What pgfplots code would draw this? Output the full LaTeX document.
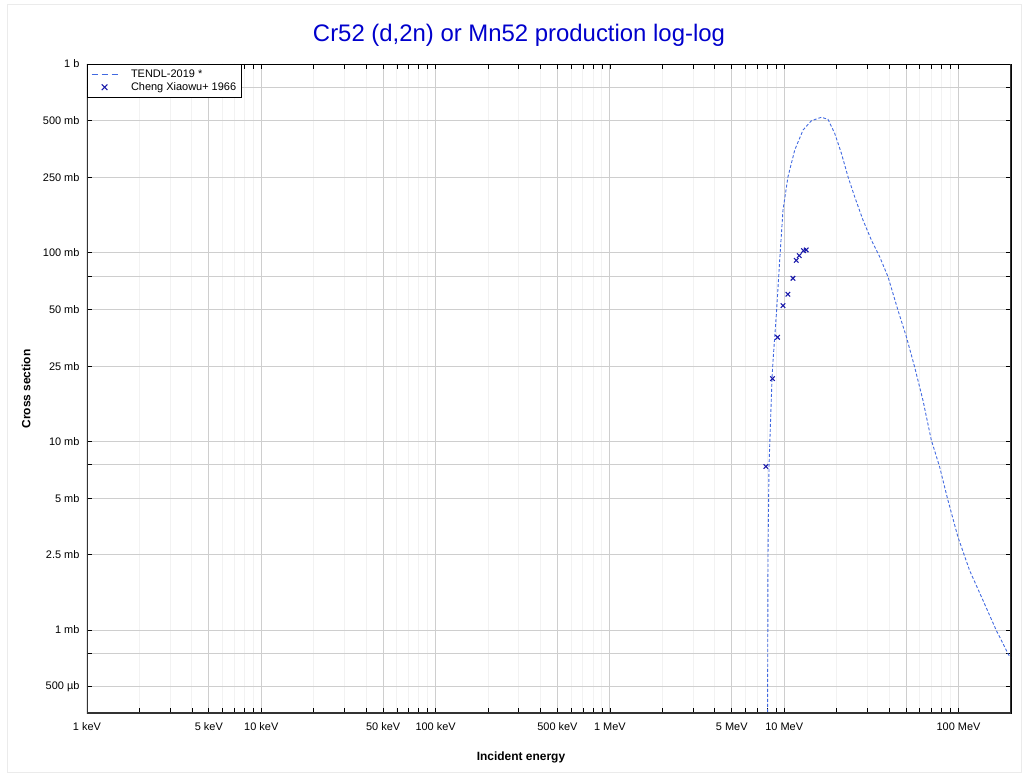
\documentclass[border=0pt]{standalone}
\usepackage{fontspec}
\setmainfont{Liberation Sans}
\usepackage{pgfplots}
\pgfplotsset{compat=1.18}
\definecolor{tendl}{RGB}{65,105,225}
\definecolor{exfor}{RGB}{25,25,170}
\definecolor{ttl}{RGB}{0,0,204}
\definecolor{gridmaj}{RGB}{206,206,206}
\definecolor{gridmin}{RGB}{242,242,242}
\definecolor{frame}{RGB}{51,51,51}
\pgfplotsset{
  lineleg/.style={legend image code/.code={
    \draw[##1, line width=1.3bp, dash pattern=on 6bp off 4bp] (0bp,0bp) -- (26bp,0bp);
    \path[draw=none, fill=none] (0bp,0bp) -- (38bp,0bp);}},
  markleg/.style={legend image code/.code={
    \draw[##1, mark size=4bp] plot coordinates {(13bp,0bp)};
    \path[draw=none, fill=none] (0bp,0bp) -- (38bp,0bp);}},
}

\begin{document}
\begin{tikzpicture}
\useasboundingbox (0bp,0bp) rectangle (1022bp,773bp);
\draw[black!8] (7bp,1bp) rectangle (1021.5bp,769bp);
\node[font=\fontsize{24}{28}\selectfont, text=ttl] at (519bp,738bp) {Cr52 (d,2n) or Mn52 production log-log};
\node[font=\bfseries\fontsize{12}{14}\selectfont] at (521bp,16bp) {Incident energy};
\node[font=\bfseries\fontsize{12}{14}\selectfont, rotate=90] at (26bp,384bp) {Cross section};
\begin{axis}[
  at={(87bp,60bp)}, anchor=south west,
  width=924bp, height=649bp, scale only axis,
  xmode=log, ymode=log,
  xmin=0.001, xmax=200, ymin=0.363, ymax=1000,
  xtick={0.001,0.005,0.01,0.05,0.1,0.5,1,5,10,50,100},
  xticklabels={1 keV,5 keV,10 keV,50 keV,100 keV,500 keV,1 MeV,5 MeV,10 MeV,{},100 MeV},
  minor xtick={0.002,0.003,0.004,0.006,0.007,0.008,0.009,
               0.02,0.03,0.04,0.06,0.07,0.08,0.09,
               0.2,0.3,0.4,0.6,0.7,0.8,0.9,
               2,3,4,6,7,8,9,20,30,40,60,70,80,90},
  ytick={0.5,0.75,1,2.5,5,7.5,10,25,50,75,100,250,500,750,1000},
  yticklabels={500 µb,{},1 mb,2.5 mb,5 mb,{},10 mb,25 mb,50 mb,{},100 mb,250 mb,500 mb,{},1 b},
  minor ytick={},
  xticklabel style={font=\fontsize{11}{13}\selectfont, yshift=-6bp},
  yticklabel style={font=\fontsize{11}{13}\selectfont, xshift=-4bp},
  tick align=inside,
  major tick length=5bp, minor tick length=5bp,
  tick style={black, line width=0.8bp},
  xmajorgrids, xminorgrids, ymajorgrids,
  major grid style={gridmaj, line width=0.9bp},
  minor grid style={gridmin, line width=0.9bp},
  axis line style={black, line width=0.8bp},
  legend cell align=left,
  legend style={at={(0,1)}, anchor=north west, draw=black, line width=0.8bp,
    font=\fontsize{11}{13}\selectfont, inner xsep=3.5bp, inner ysep=4bp,
    nodes={inner sep=1.5bp}, row sep=0.5bp},
]
\addplot[tendl, line width=0.9bp, dash pattern=on 3bp off 2bp, lineleg] coordinates {
  (8.01,0.2) (8.05,1.0) (8.07,2.49) (8.18,7.38) (8.51,21.6) (8.63,27.0)
  (9.02,47.7) (9.42,91.4) (9.84,168.2) (10.51,252.6) (11.49,349.9)
  (12.82,446.7) (14.32,500.5) (16.34,521.8) (17.83,508.9) (19.48,429.2)
  (21.28,336.1) (23.22,252.6) (25.36,197.9) (28.30,148.9) (31.62,116.6)
  (35.28,95.1) (39.4,74.5) (44.9,49.6) (50.2,35.8) (55.98,24.8)
  (62.5,16.5) (69.8,10.15) (77.9,7.32) (86.9,4.88) (99.1,3.12)
  (115.7,2.07) (137.9,1.44) (164.5,0.997) (194.4,0.735) (200,0.71)
};
\addlegendentry{TENDL-2019 *}
\addplot[exfor, only marks, mark=x, mark size=3.2bp, mark options={line width=1.1bp}, markleg] coordinates {
  (7.85,7.35) (8.57,21.5) (9.15,35.6) (9.83,52.4) (10.50,60.2)
  (11.22,73.1) (11.72,91.0) (12.19,96.4) (12.90,102.5) (13.37,103.3)
};
\addlegendentry{Cheng Xiaowu+ 1966}
\draw[frame, line width=2bp] (rel axis cs:0,1) -- (rel axis cs:0,0) -- (rel axis cs:1,0) -- (rel axis cs:1,1);
\end{axis}
\end{tikzpicture}
\end{document}
